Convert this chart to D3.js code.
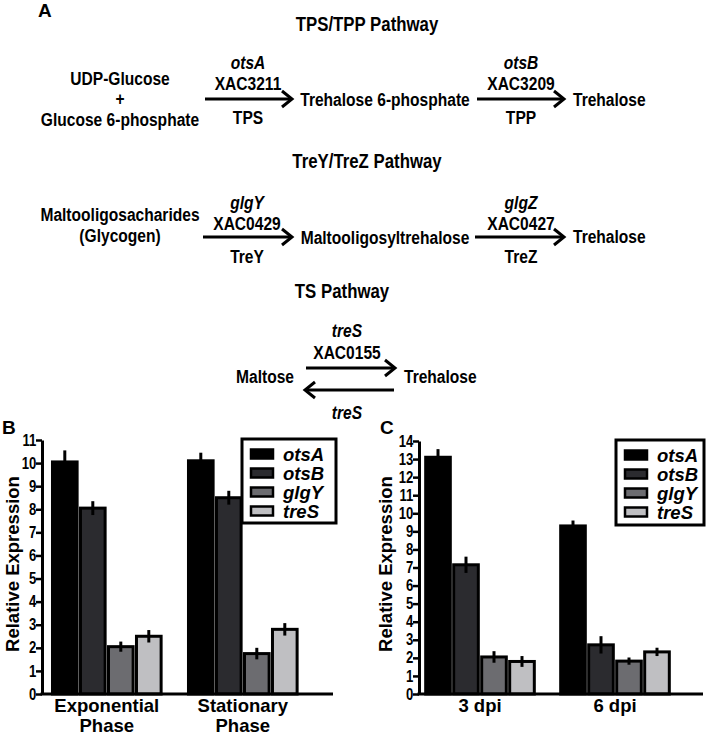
<!DOCTYPE html>
<html>
<head>
<meta charset="utf-8">
<script src="https://cdn.jsdelivr.net/npm/d3@7"></script>
<style>
  html, body { margin: 0; padding: 0; background: #fff; }
  svg { display: block; }
  text { font-family: "Liberation Sans", Arial, sans-serif; font-weight: bold; fill: #000; }
</style>
</head>
<body>
<svg id="fig" width="711" height="734"></svg>
<script>
// ---------------- DATA ----------------
const genes = ["otsA", "otsB", "glgY", "treS"];
const geneColors = ["#000000", "#2b2b2f", "#6c6c70", "#bfbfc2"];

const groupsB = ["Exponential Phase", "Stationary Phase"];
const meanB_exp  = [10.05, 8.05, 2.05, 2.5];
const errB_exp   = [0.5, 0.3, 0.22, 0.27];
const meanB_stat = [10.1, 8.5, 1.75, 2.8];
const errB_stat  = [0.35, 0.3, 0.25, 0.27];
const ticksB = [0, 1, 2, 3, 4, 5, 6, 7, 8, 9, 10, 11];

const groupsC = ["3 dpi", "6 dpi"];
const meanC_3dpi = [13.1, 7.15, 2.05, 1.8];
const errC_3dpi  = [0.45, 0.45, 0.32, 0.3];
const meanC_6dpi = [9.3, 2.72, 1.82, 2.33];
const errC_6dpi  = [0.3, 0.48, 0.2, 0.23];
const ticksC = [0, 1, 2, 3, 4, 5, 6, 7, 8, 9, 10, 11, 12, 13, 14];

const NARROW = 0.82; // horizontal condensing to mimic a narrow bold face

// ---------------- SVG ----------------
const svg = d3.select("#fig");

// ---------- Panel A : pathways ----------
const A = svg.append("g");
function txt(x, y, s, opts = {}) {
  const t = A.append("g")
    .attr("transform", `translate(${x},${y}) scale(${NARROW},1)`)
    .append("text")
    .attr("x", 0).attr("y", 0)
    .attr("text-anchor", opts.anchor || "middle")
    .attr("dominant-baseline", "central")
    .style("font-size", (opts.size || 19) + "px")
    .text(s);
  if (opts.italic) t.style("font-style", "italic");
  return t;
}
function arrow(x1, x2, y) {
  A.append("line").attr("x1", x1).attr("x2", x2).attr("y1", y).attr("y2", y)
    .attr("stroke", "#000").attr("stroke-width", 3);
  const d = x2 > x1 ? -1 : 1;
  A.append("polyline")
    .attr("points", [[x2 + d * 10, y - 8], [x2, y], [x2 + d * 10, y + 8]].map(p => p.join(",")).join(" "))
    .attr("fill", "none").attr("stroke", "#000").attr("stroke-width", 3)
    .attr("stroke-linejoin", "miter");
}

A.append("text").attr("x", 38).attr("y", 17).style("font-size", "19px").text("A");

// TPS/TPP
txt(367, 24, "TPS/TPP Pathway", { size: 20.5 });
txt(120, 78, "UDP-Glucose");
txt(120, 98, "+");
txt(120, 119, "Glucose 6-phosphate");
arrow(205, 292, 99);
txt(248, 62, "otsA", { italic: true });
txt(248, 83, "XAC3211");
txt(248, 117, "TPS");
txt(385, 99, "Trehalose 6-phosphate");
arrow(477, 564, 99);
txt(521, 62, "otsB", { italic: true });
txt(521, 83, "XAC3209");
txt(521, 117, "TPP");
txt(573, 99, "Trehalose", { anchor: "start" });

// TreY/TreZ
txt(367, 161, "TreY/TreZ Pathway", { size: 20.5 });
txt(120, 214, "Maltooligosacharides");
txt(120, 235, "(Glycogen)");
arrow(203, 292, 237);
txt(247, 202, "glgY", { italic: true });
txt(247, 223, "XAC0429");
txt(247, 256, "TreY");
txt(385, 237, "Maltooligosyltrehalose");
arrow(475, 564, 237);
txt(521, 202, "glgZ", { italic: true });
txt(521, 223, "XAC0427");
txt(521, 256, "TreZ");
txt(573, 236, "Trehalose", { anchor: "start" });

// TS
txt(342, 291, "TS Pathway", { size: 20.5 });
txt(347, 330, "treS", { italic: true });
txt(347, 352, "XAC0155");
arrow(306, 395, 368);
arrow(394, 305, 390);
txt(294, 376, "Maltose", { anchor: "end" });
txt(404, 376, "Trehalose", { anchor: "start" });
txt(347, 412, "treS", { italic: true });

// ---------- Bar chart helper ----------
function barPanel(cfg) {
  const g = svg.append("g");
  const y = d3.scaleLinear().domain([0, cfg.ticks[cfg.ticks.length - 1]]).range([cfg.y0, cfg.yTop]);
  const x0 = d3.scaleBand().domain(cfg.groups).range(cfg.groupRange).paddingInner(cfg.padInner).paddingOuter(0);
  const x1 = d3.scaleBand().domain(genes).range([0, x0.bandwidth()]).paddingInner(0.12).paddingOuter(0.06);

  // bars
  cfg.groups.forEach((grp, gi) => {
    const means = cfg.means[gi], errs = cfg.errs[gi];
    const gg = g.append("g").attr("transform", `translate(${x0(grp)},0)`);
    gg.selectAll("rect").data(genes).join("rect")
      .attr("x", d => x1(d))
      .attr("width", x1.bandwidth())
      .attr("y", (d, i) => y(means[i]))
      .attr("height", (d, i) => cfg.y0 - y(means[i]))
      .attr("fill", (d, i) => geneColors[i])
      .attr("stroke", "#000").attr("stroke-width", 3);
    gg.selectAll("line.err").data(genes).join("line")
      .attr("class", "err")
      .attr("x1", d => x1(d) + x1.bandwidth() / 2)
      .attr("x2", d => x1(d) + x1.bandwidth() / 2)
      .attr("y1", (d, i) => y(means[i] + errs[i]))
      .attr("y2", (d, i) => y(means[i] - errs[i]))
      .attr("stroke", "#000").attr("stroke-width", 3);
  });

  // y axis
  const yAxis = d3.axisLeft(y).tickValues(cfg.ticks).tickFormat(d3.format("d")).tickSize(6).tickSizeOuter(0).tickPadding(1);
  const ya = g.append("g").attr("transform", `translate(${cfg.axisX},0)`).call(yAxis);
  ya.attr("font-family", null).attr("font-size", null);
  ya.select(".domain").attr("stroke-width", 3).attr("stroke", "#000");
  ya.selectAll(".tick line").attr("stroke-width", 2.5).attr("stroke", "#000");
  ya.selectAll(".tick text")
    .attr("transform", `scale(${NARROW},1)`)
    .style("font-size", "16px").attr("fill", "#000");

  // x axis line
  g.append("line").attr("x1", cfg.axisX - 1.5).attr("x2", cfg.xEnd)
    .attr("y1", cfg.y0).attr("y2", cfg.y0).attr("stroke", "#000").attr("stroke-width", 3);

  // x labels
  cfg.groups.forEach((grp) => {
    const cx = x0(grp) + x0.bandwidth() / 2;
    const words = cfg.labelLines(grp);
    words.forEach((w, li) => {
      g.append("text").attr("x", cx).attr("y", cfg.y0 + 18 + li * 19.5)
        .attr("text-anchor", "middle").style("font-size", "18.5px").text(w);
    });
  });

  // y title
  g.append("text")
    .attr("transform", `translate(${cfg.titleX},${cfg.titleY}) rotate(-90)`)
    .attr("text-anchor", "middle").style("font-size", "18.5px").text("Relative Expression");

  // panel letter
  g.append("text").attr("x", cfg.letterX).attr("y", 434).style("font-size", "19px").text(cfg.letter);

  // legend
  const L = cfg.legend;
  g.append("rect").attr("x", L.x).attr("y", L.y).attr("width", L.w).attr("height", L.h)
    .attr("fill", "#fff").attr("stroke", "#000").attr("stroke-width", 3);
  genes.forEach((gname, i) => {
    const ry = L.y + 15 + i * 19;
    g.append("rect").attr("x", L.x + 9).attr("y", ry - 4.5).attr("width", 22).attr("height", 9)
      .attr("fill", geneColors[i]).attr("stroke", "#000").attr("stroke-width", 2.5);
    g.append("text").attr("x", L.x + 41).attr("y", ry).attr("dominant-baseline", "central")
      .style("font-size", "18.5px").style("font-style", "italic").text(gname);
  });
}

barPanel({
  letter: "B", letterX: 2,
  groups: groupsB, means: [meanB_exp, meanB_stat], errs: [errB_exp, errB_stat],
  ticks: ticksB, y0: 694, yTop: 440, axisX: 42, xEnd: 333,
  groupRange: [50.8, 298.8], padInner: 24 / 136,
  labelLines: s => s.split(" "),
  titleX: 19, titleY: 564,
  legend: { x: 242, y: 439, w: 94, h: 84 }
});

barPanel({
  letter: "C", letterX: 380,
  groups: groupsC, means: [meanC_3dpi, meanC_6dpi], errs: [errC_3dpi, errC_6dpi],
  ticks: ticksC, y0: 694, yTop: 441, axisX: 419, xEnd: 703,
  groupRange: [424, 671], padInner: 23 / 135,
  labelLines: s => [s],
  titleX: 392, titleY: 564,
  legend: { x: 616, y: 440, w: 88, h: 85 }
});
</script>
</body>
</html>
